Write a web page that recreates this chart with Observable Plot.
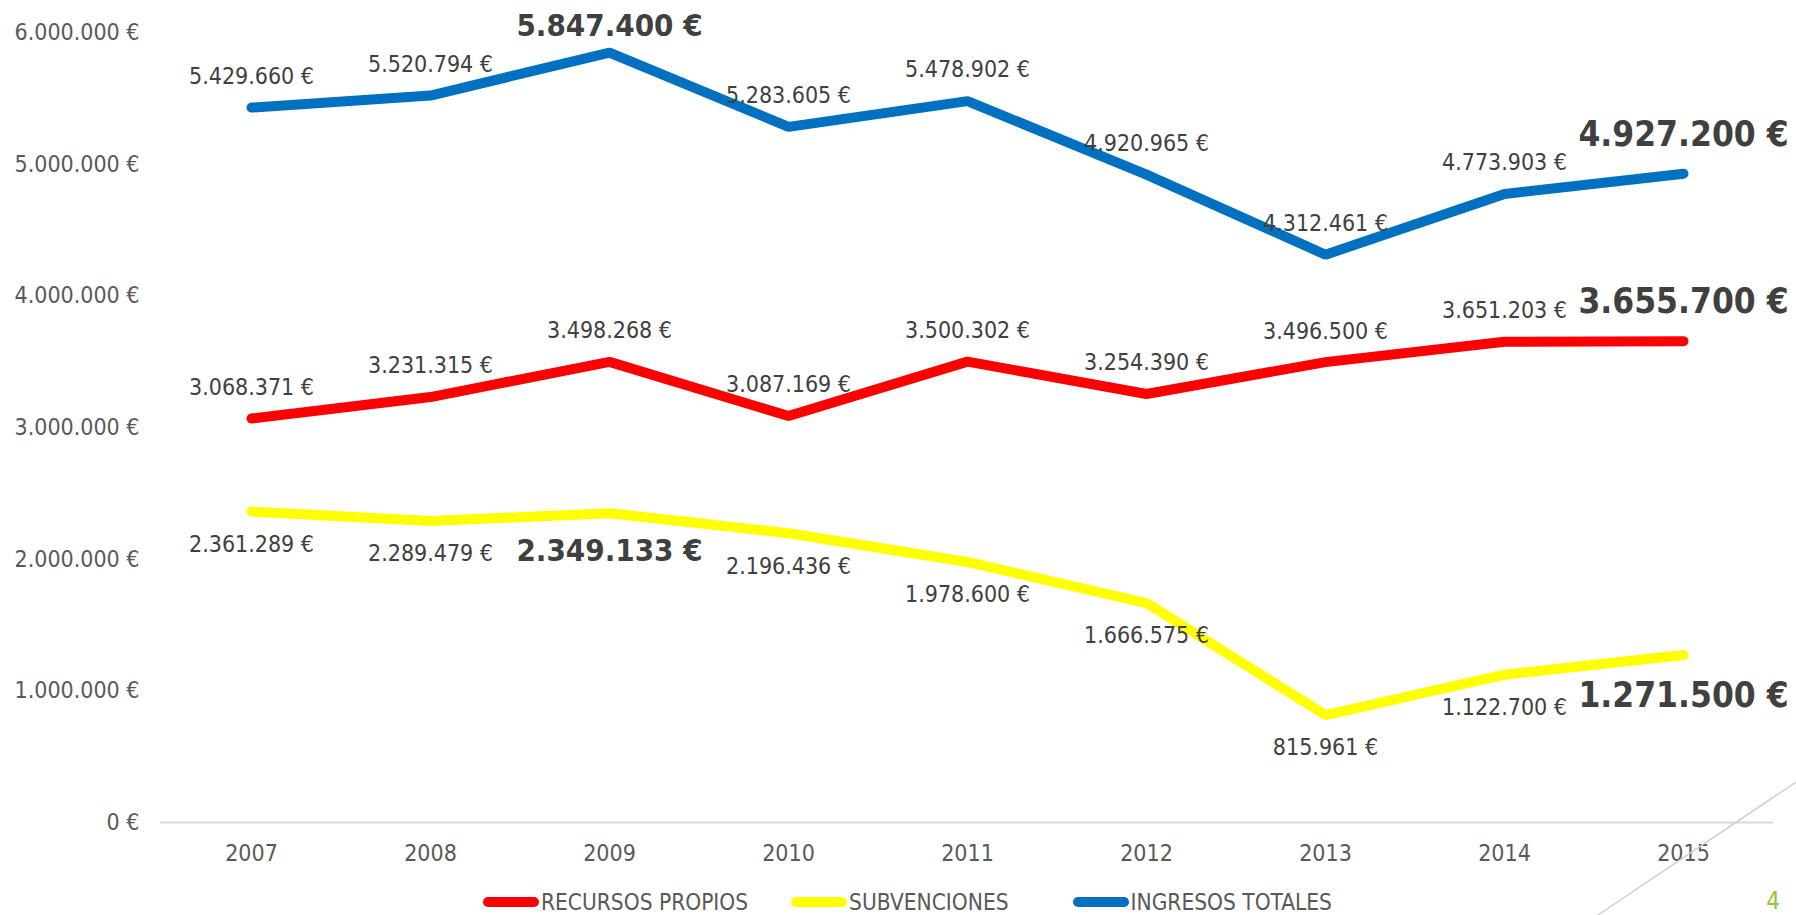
<!DOCTYPE html>
<html>
<head>
<meta charset="utf-8">
<script src="https://cdn.jsdelivr.net/npm/d3@7"></script>
<script src="https://cdn.jsdelivr.net/npm/@observablehq/plot@0.6"></script>
<style>
  html, body { margin: 0; padding: 0; background: #ffffff; }
  #wrap { position: relative; width: 1796px; height: 915px; overflow: hidden; background: #fff; }
  #chart { position: absolute; left: 0; top: 0; }
  #legend {
    position: absolute; left: 0; top: 889px; width: 1796px; height: 26px;
    display: flex; align-items: center; padding-left: 483px; box-sizing: border-box;
    font-family: "DejaVu Sans Condensed", "DejaVu Sans", sans-serif;
    font-stretch: condensed; font-size: 22.5px; line-height: 26px; color: #595959;
  }
  .item { display: flex; align-items: center; }
  .sw { width: 56px; height: 10px; border-radius: 5px; margin-right: 2px; }
  #deco { position: absolute; left: 0; top: 0; pointer-events: none; }
</style>
</head>
<body>
<div id="wrap">
  <div id="chart"></div>
  <div id="legend"></div>
  <svg id="deco" width="1796" height="915"></svg>
</div>
<script>
// ---- data ----
const years = ["2007", "2008", "2009", "2010", "2011", "2012", "2013", "2014", "2015"];
const recursosPropios = [3068371, 3231315, 3498268, 3087169, 3500302, 3254390, 3496500, 3651203, 3655700];
const subvenciones    = [2361289, 2289479, 2349133, 2196436, 1978600, 1666575, 815961, 1122700, 1271500];
const ingresosTotales = [5429660, 5520794, 5847400, 5283605, 5478902, 4920965, 4312461, 4773903, 4927200];
const seriesNames = ["RECURSOS PROPIOS", "SUBVENCIONES", "INGRESOS TOTALES"];
const seriesValues = [recursosPropios, subvenciones, ingresosTotales];
const seriesColors = ["#FF0000", "#FFFF00", "#0070C0"];
const labelBelow = ["SUBVENCIONES"];
const highlightedYears = {
  "RECURSOS PROPIOS": ["2015"],
  "SUBVENCIONES": ["2009", "2015"],
  "INGRESOS TOTALES": ["2009", "2015"]
};
const yTicks = [0, 1000000, 2000000, 3000000, 4000000, 5000000, 6000000];
const yMax = 6000000;
const pageNumber = "4";

// ---- build table ----
const euro = d => d3.format(",")(d).replace(/,/g, ".") + " €";
const lastYear = years[years.length - 1];
const rows = [];
seriesNames.forEach((s, i) => {
  years.forEach((yr, j) => {
    rows.push({
      series: s, year: yr, value: seriesValues[i][j],
      bold: highlightedYears[s].includes(yr),
      last: yr === lastYear,
      below: labelBelow.includes(s)
    });
  });
});

const W = 1796, H = 880;
const labelFont = '"DejaVu Sans Condensed", "DejaVu Sans", sans-serif';
const axisFont = '"DejaVu Sans Condensed", "DejaVu Sans", sans-serif';
const txt = d => euro(d.value);
const base = { x: "year", y: "value", text: txt, fill: "#404040", fontFamily: labelFont };

const chart = Plot.plot({
  width: W, height: H,
  marginLeft: 160, marginRight: 23, marginTop: 32, marginBottom: 58,
  style: { background: "transparent", fontFamily: axisFont, fontSize: "23px", color: "#595959", overflow: "visible" },
  x: { type: "point", domain: years, padding: 0.5, label: null },
  y: { domain: [0, yMax], label: null },
  color: { domain: seriesNames, range: seriesColors },
  marks: [
    Plot.axisX({ tickSize: 0, tickPadding: 22, fontSize: 23, fill: "#595959", label: null, fontFamily: axisFont }),
    Plot.axisY({ ticks: yTicks, tickFormat: euro, tickSize: 0, tickPadding: 21, fontSize: 23, fill: "#595959", label: null, fontFamily: axisFont }),
    Plot.ruleY([0], { stroke: "#d9d9d9", strokeWidth: 2 }),
    Plot.line(rows, { x: "year", y: "value", z: "series", stroke: "series", strokeWidth: 10, strokeLinecap: "round", strokeLinejoin: "miter" }),
    // regular labels
    Plot.text(rows.filter(d => !d.bold && !d.below), { ...base, dy: -31, fontSize: 23 }),
    Plot.text(rows.filter(d => !d.bold && d.below), { ...base, dy: 33, fontSize: 23 }),
    // highlighted labels, last year (largest)
    Plot.text(rows.filter(d => d.bold && d.last && !d.below), { ...base, dy: -39, fontSize: 35, fontWeight: "bold" }),
    Plot.text(rows.filter(d => d.bold && d.last && d.below), { ...base, dy: 41, fontSize: 35, fontWeight: "bold" }),
    // highlighted labels, other years
    Plot.text(rows.filter(d => d.bold && !d.last && !d.below), { ...base, dy: -27, fontSize: 31, fontWeight: "bold" }),
    Plot.text(rows.filter(d => d.bold && !d.last && d.below), { ...base, dy: 38, fontSize: 31, fontWeight: "bold" })
  ]
});
document.getElementById("chart").appendChild(chart);

// ---- legend ----
const legend = document.getElementById("legend");
const gaps = [43, 64, 0];
seriesNames.forEach((s, i) => {
  const it = document.createElement("div");
  it.className = "item";
  it.style.marginRight = gaps[i] + "px";
  const sw = document.createElement("div");
  sw.className = "sw";
  sw.style.background = seriesColors[i];
  const tx = document.createElement("span");
  tx.textContent = s;
  it.appendChild(sw); it.appendChild(tx);
  legend.appendChild(it);
});

// ---- slide decoration ----
const deco = d3.select("#deco");
deco.append("line").attr("x1", 1796).attr("y1", 782).attr("x2", 1598).attr("y2", 915)
  .attr("stroke", "#d0d0d0").attr("stroke-width", 1.5);
deco.append("text").attr("x", 1773).attr("y", 909).attr("text-anchor", "middle")
  .attr("font-family", axisFont).attr("font-size", 24).attr("fill", "#8CC63F").text(pageNumber);
</script>
</body>
</html>
